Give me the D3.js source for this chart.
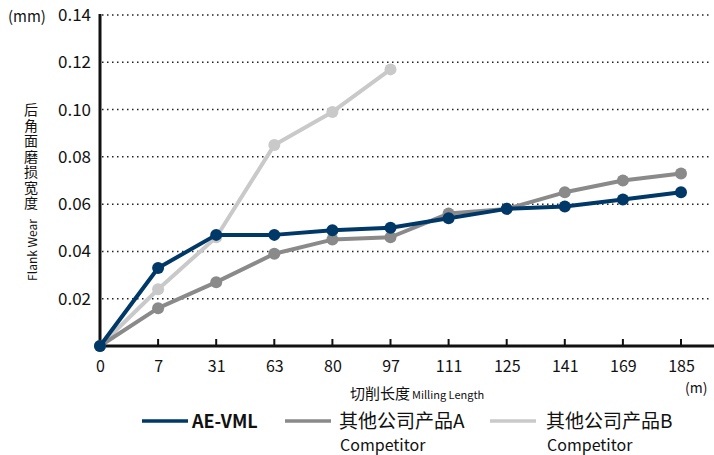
<!DOCTYPE html>
<html><head><meta charset="utf-8">
<script src="https://cdn.jsdelivr.net/npm/d3@7"></script>
<style>body{margin:0;background:#fff}svg{display:block}text{font-family:"Noto Sans CJK SC","Noto Sans",sans-serif}</style>
</head><body>
<script>
const categories = ["0","7","31","63","80","97","111","125","141","169","185"];
const aeVml = [0,0.033,0.047,0.047,0.049,0.050,0.054,0.058,0.059,0.062,0.065];
const compA = [0,0.016,0.027,0.039,0.045,0.046,0.056,0.058,0.065,0.070,0.073];
const compB = [0,0.024,0.046,0.085,0.099,0.117];
const yTicks = [0.02,0.04,0.06,0.08,0.10,0.12,0.14];
const seriesNames = ["AE-VML","其他公司产品A","其他公司产品B"];
const colors = ["#003867","#8a8a8a","#c9c9c9"];

const W=714,H=455;
const svg=d3.select("body").append("svg").attr("width",W).attr("height",H);
const x=d3.scalePoint().domain(categories).range([100,681]);
const y=d3.scaleLinear().domain([0,0.14]).range([346,15]);

// grid
svg.append("g").selectAll("line").data(yTicks).join("line")
 .attr("x1",102).attr("x2",711).attr("y1",d=>y(d)).attr("y2",d=>y(d))
 .attr("stroke","#222").attr("stroke-width",1.5).attr("stroke-dasharray","1.5,3.5");

// y labels
svg.append("g").selectAll("text").data(yTicks).join("text")
 .attr("x",91).attr("y",d=>y(d)+6).attr("text-anchor","end")
 .attr("font-size",17).attr("fill","#111").text(d=>d.toFixed(2));
svg.append("text").attr("x",8).attr("y",22).attr("font-size",15).attr("fill","#111").text("(mm)");

// x axis
const xa=svg.append("g").attr("transform","translate(0,346)")
 .call(d3.axisBottom(x).tickSize(0).tickPadding(15));
xa.select(".domain").remove();
xa.selectAll("text").attr("font-size",16).attr("fill","#111").style("font-family",'"Noto Sans CJK SC","Noto Sans",sans-serif');
svg.append("g").selectAll("line").data(categories.slice(1)).join("line")
 .attr("x1",d=>x(d)).attr("x2",d=>x(d)).attr("y1",346).attr("y2",339)
 .attr("stroke","#111").attr("stroke-width",2);
svg.append("line").attr("x1",100).attr("x2",714).attr("y1",346).attr("y2",346).attr("stroke","#111").attr("stroke-width",3);
svg.append("line").attr("x1",100).attr("x2",100).attr("y1",14).attr("y2",347).attr("stroke","#111").attr("stroke-width",3);

// axis titles
svg.append("text").attr("x",31).attr("y",103).attr("font-size",14).attr("fill","#111")
 .attr("writing-mode","tb").style("letter-spacing","1.5px").text("后角面磨损宽度");
svg.append("text").attr("transform","translate(37,250) rotate(-90)").attr("text-anchor","middle")
 .attr("font-size",12).attr("fill","#111").text("Flank Wear");
const xt=svg.append("text").attr("x",350).attr("y",399).attr("fill","#111");
xt.append("tspan").attr("font-size",15).text("切削长度");
xt.append("tspan").attr("font-size",11).attr("dx",2).text("Milling Length");
svg.append("text").attr("x",685).attr("y",393).attr("font-size",14).attr("fill","#111").text("(m)");

// series
const series=[compB,compA,aeVml];
const cols=[colors[2],colors[1],colors[0]];
const line=d3.line().x((d,i)=>x(categories[i])).y(d=>y(d));
series.forEach((s,k)=>{
  svg.append("path").datum(s).attr("d",line).attr("fill","none")
   .attr("stroke",cols[k]).attr("stroke-width",4).attr("stroke-linejoin","round");
  svg.append("g").selectAll("circle").data(s).join("circle")
   .attr("cx",(d,i)=>x(categories[i])).attr("cy",d=>y(d)).attr("r",6).attr("fill",cols[k]);
});

// legend
const leg=[{x:142,tx:192,c:colors[0],t:seriesNames[0],bold:true},
           {x:285,tx:339,c:colors[1],t:seriesNames[1],sub:"Competitor"},
           {x:490,tx:546,c:colors[2],t:seriesNames[2],sub:"Competitor"}];
leg.forEach(l=>{
  svg.append("line").attr("x1",l.x).attr("x2",l.x+46).attr("y1",421).attr("y2",421).attr("stroke",l.c).attr("stroke-width",3.5);
  svg.append("text").attr("x",l.tx).attr("y",428).attr("font-size",l.bold?18:19).attr("font-weight",l.bold?"bold":"normal").attr("fill","#111").text(l.t);
  if(l.sub) svg.append("text").attr("x",l.tx+1).attr("y",451).attr("font-size",16).attr("fill","#111").text(l.sub);
});
</script></body></html>
